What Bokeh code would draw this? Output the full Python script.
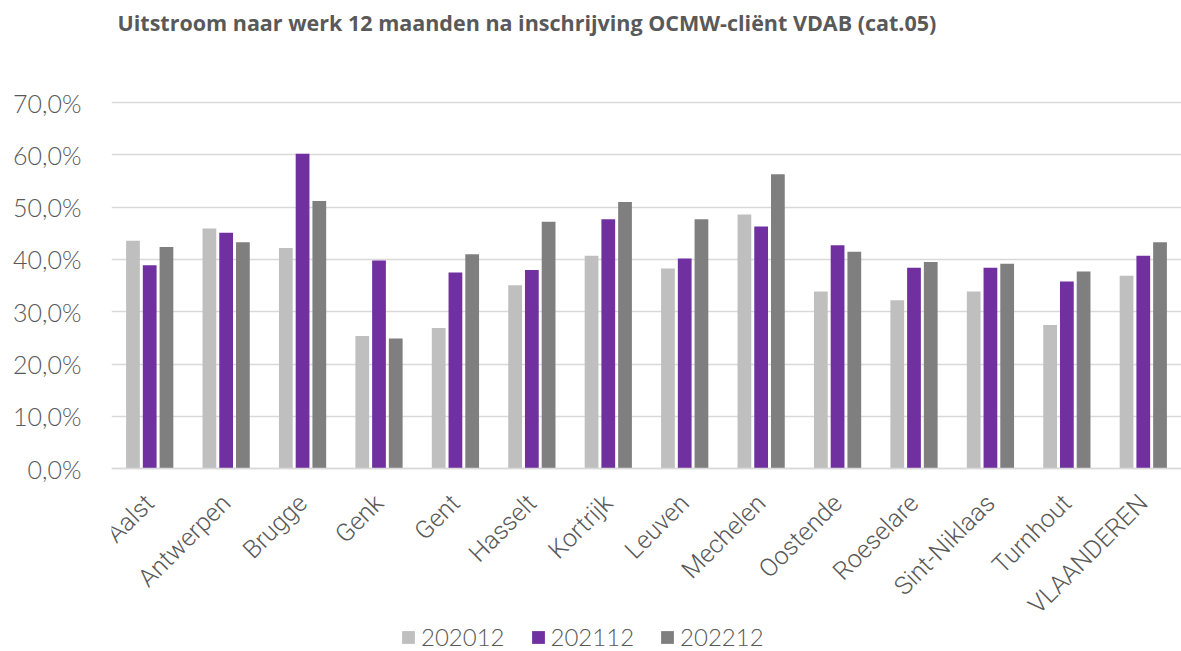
from bokeh.plotting import figure
from bokeh.models import (ColumnDataSource, FactorRange, Range1d, Legend, LegendItem,
                          CustomJSTickFormatter, FixedTicker, CategoricalAxis, Label)
from bokeh.transform import dodge
from bokeh.embed import file_html
from bokeh.resources import INLINE
import math

categories = ["Aalst", "Antwerpen", "Brugge", "Genk", "Gent", "Hasselt", "Kortrijk",
              "Leuven", "Mechelen", "Oostende", "Roeselare", "Sint-Niklaas", "Turnhout", "VLAANDEREN"]
series_names = ["202012", "202112", "202212"]
v202012 = [43.6, 45.9, 42.2, 25.4, 26.9, 35.1, 40.7, 38.3, 48.6, 33.9, 32.2, 33.9, 27.5, 36.9]
v202112 = [38.9, 45.1, 60.2, 39.8, 37.5, 38.0, 47.7, 40.2, 46.3, 42.7, 38.4, 38.4, 35.8, 40.7]
v202212 = [42.4, 43.3, 51.2, 24.9, 41.0, 47.2, 51.0, 47.7, 56.3, 41.5, 39.5, 39.2, 37.7, 43.3]
y_ticks = [0, 10, 20, 30, 40, 50, 60, 70]
title_text = "Uitstroom naar werk 12 maanden na inschrijving OCMW-cliënt VDAB (cat.05)"

colors = ["#BFBFBF", "#7030A0", "#7F7F7F"]
text_color = "#595959"

# layout: frame covers whole height; value axis 0..70 spans page y 468 -> 102
W, H = 1181, 651
y0_px, y70_px = 468.3, 102.0
ppu = (y0_px - y70_px) / 70.0
y_start = -(H - y0_px) / ppu
y_end = 70 + y70_px / ppu

src = ColumnDataSource(dict(cat=categories, a=v202012, b=v202112, c=v202212))

p = figure(x_range=FactorRange(*categories, range_padding=0), y_range=Range1d(y_start, y_end),
           width=W, height=H, output_backend="svg", toolbar_location=None,
           x_axis_location=None,
           min_border_left=111, min_border_right=0, min_border_top=0, min_border_bottom=0)
p.outline_line_color = None
p.background_fill_color = "white"
p.border_fill_color = "white"

bw = 0.18
off = 0.219
r1 = p.vbar(x=dodge("cat", -off, range=p.x_range), top="a", width=bw, source=src, fill_color=colors[0], line_color=None)
r2 = p.vbar(x=dodge("cat", 0.0, range=p.x_range), top="b", width=bw, source=src, fill_color=colors[1], line_color=None)
r3 = p.vbar(x=dodge("cat", off, range=p.x_range), top="c", width=bw, source=src, fill_color=colors[2], line_color=None)

p.xgrid.grid_line_color = None
p.ygrid.grid_line_color = "#D9D9D9"
p.ygrid.grid_line_width = 1.5
p.yaxis.ticker = FixedTicker(ticks=y_ticks)
p.ygrid.ticker = FixedTicker(ticks=y_ticks)
p.yaxis.formatter = CustomJSTickFormatter(code="return tick.toFixed(1).replace('.', ',') + '%';")
p.yaxis.axis_line_color = None
p.yaxis.major_tick_line_color = None
p.yaxis.minor_tick_line_color = None
p.yaxis.major_label_text_font = "Lato Light"
p.yaxis.major_label_text_font_size = "25px"
p.yaxis.major_label_text_color = text_color
p.yaxis.major_label_standoff = 24

xaxis = CategoricalAxis(fixed_location=0)
xaxis.axis_line_color = "#D9D9D9"
xaxis.axis_line_width = 1.5
xaxis.major_tick_line_color = None
xaxis.minor_tick_line_color = None
xaxis.major_label_orientation = math.pi / 4
xaxis.major_label_text_font = "Roboto Light"
xaxis.major_label_text_font_size = "25px"
xaxis.major_label_text_color = text_color
xaxis.major_label_standoff = 24
p.add_layout(xaxis, "below")

title = Label(x=6, y=H - 22, x_units="screen", y_units="screen", text=title_text,
              text_font="Open Sans", text_font_style="bold", text_font_size="21.5px",
              text_color=text_color, text_baseline="middle", text_align="left")
p.add_layout(title)

legend = Legend(items=[LegendItem(label=series_names[0], renderers=[r1]),
                       LegendItem(label=series_names[1], renderers=[r2]),
                       LegendItem(label=series_names[2], renderers=[r3])],
                orientation="horizontal", location=(289, 0),
                glyph_width=16, glyph_height=16, label_standoff=5, spacing=25,
                padding=0, margin=0, border_line_color=None, background_fill_alpha=0)
legend.label_text_font = "Lato Light"
legend.label_text_font_size = "24px"
legend.label_text_color = text_color
p.add_layout(legend, "center")

open("out.html", "w").write(file_html(p, INLINE))
